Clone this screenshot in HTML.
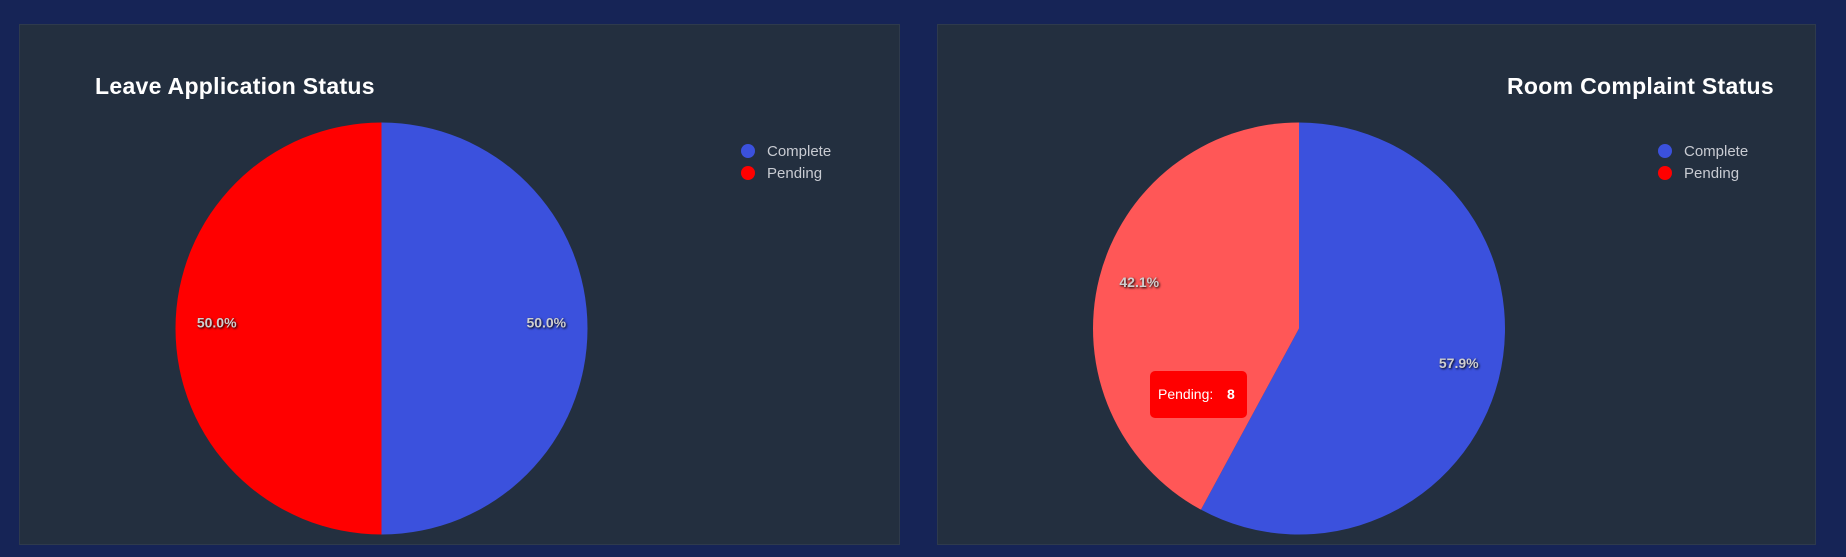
<!DOCTYPE html>
<html><head><meta charset="utf-8"><style>
body{margin:0;width:1846px;height:557px;background:#162456;font-family:"Liberation Sans",sans-serif;overflow:hidden;position:relative}
.panel{position:absolute;top:24px;height:521px;background:#232f3f;border:1px solid #2e3a4c;box-sizing:border-box}
svg{position:absolute;left:0;top:0}
</style></head><body>
<div class="panel" style="left:19px;width:881px"></div>
<div class="panel" style="left:937px;width:879px"></div>
<svg id="s" width="1846" height="557"></svg>
<script>
const leaveLabels=["Complete","Pending"];
const leaveValues=[1,1];
const roomLabels=["Complete","Pending"];
const roomValues=[11,8];
const colors=["#3b51dd","#ff0000"];
const NS="http://www.w3.org/2000/svg";
const svg=document.getElementById('s');
function mk(t,a,txt){const e=document.createElementNS(NS,t);for(const k in a)e.setAttribute(k,a[k]);if(txt!=null)e.textContent=txt;svg.appendChild(e);return e;}
function pie(cx,cy,r,labels,values,title,tx,anchor,lx,hover,name){
  const t=mk('text',{x:tx,y:94,fill:'#fff','font-size':23,'font-weight':'bold','text-anchor':anchor,'letter-spacing':'0.3'},title);
  
  const tot=values.reduce((a,b)=>a+b,0);let a0=-Math.PI/2;
  values.forEach((v,i)=>{
    const a1=a0+v/tot*2*Math.PI;
    const x0=cx+r*Math.cos(a0),y0=cy+r*Math.sin(a0),x1=cx+r*Math.cos(a1),y1=cy+r*Math.sin(a1);
    const large=(a1-a0)>Math.PI?1:0;
    const p=mk('path',{d:`M${cx},${cy}L${x0},${y0}A${r},${r} 0 ${large} 1 ${x1},${y1}Z`,fill:(hover===i?'#ff5757':colors[i])});
    
    
    const am=(a0+a1)/2,pr=r*0.8;
    const pct=(v/tot*100).toFixed(1)+'%';
    const l=mk('text',{x:cx+pr*Math.cos(am),y:cy+pr*Math.sin(am)-1,fill:'#cfcfcf','font-size':14,'font-weight':'bold','text-anchor':'middle',style:'text-shadow:1px 1px 2px #000'},pct);
    
    
    a0=a1;
  });
  labels.forEach((lb,i)=>{
    const c=mk('circle',{cx:lx,cy:151+i*22,r:7,fill:colors[i]});
    
    
    const tt=mk('text',{x:lx+19,y:156+i*22,fill:'#c8cbd2','font-size':15},lb);
    
    
  });
}
pie(381.5,328.5,206,leaveLabels,leaveValues,"Leave Application Status",95,'start',748,-1,'leave');
pie(1299,328.5,206,roomLabels,roomValues,"Room Complaint Status",1774,'end',1665,1,'room');
const tb=mk('rect',{x:1150,y:371,width:97,height:47,rx:5,fill:'#ff0000'});

const tt=mk('text',{x:1158,y:399,fill:'#fff','font-size':14},'Pending:');

const tv=mk('text',{x:1227,y:399,fill:'#fff','font-size':14,'font-weight':'bold'},String(roomValues[1]));

</script>
</body></html>
